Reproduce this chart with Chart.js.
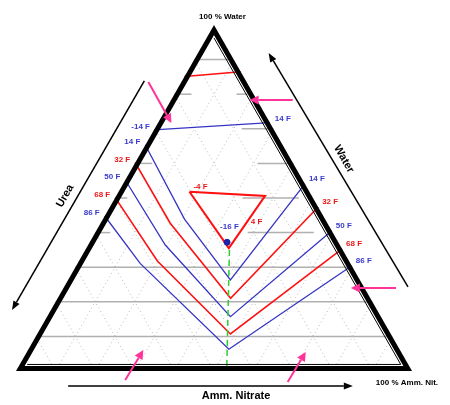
<!DOCTYPE html>
<html><head><meta charset="utf-8">
<script src="https://cdn.jsdelivr.net/npm/chart.js@4.4.0/dist/chart.umd.min.js"></script>
<style>html,body{margin:0;padding:0;background:#fff}#wrap{width:450px;height:405px;position:relative}</style>
</head><body><div id="wrap"><canvas id="c"></canvas></div>
<script>
// Compositions as [Amm. Nitrate %, Water %]  (Urea % = 100 - AN - Water)
const isoNames   = ['14 F', '32 F', '50 F', '68 F', '86 F'];
const iso14 = [[0, 65.3], [20.6, 43.9], [41.0, 26.3], [45.9, 54.1]];
const iso32 = [[0, 60.2], [17.6, 42.7], [43.7, 21.0], [52.6, 47.4]];
const iso50 = [[0, 55.2], [19.5, 36.4], [46.3, 15.7], [59.5, 40.5]];
const iso68 = [[0, 50.1], [19.8, 31.8], [48.8, 10.7], [64.7, 35.3]];
const iso86 = [[0, 44.8], [15.8, 31.1], [50.6, 6.3], [69.6, 30.4]];
const isoMinus14 = [[0, 69.7], [28.2, 71.8]];
const isoMinus14Labels = ['-14 F', '14 F'];
const isoTop = [[0, 85.1], [13.5, 86.5]];
const isoMinus4 = [[17.9, 51.8], [37.6, 50.6], [36.0, 35.5], [17.9, 51.8]];
const isoMinus4Labels = ['-4 F', '4 F'];
const isoMinus4LabelAt = [39.2, 43.1];
const eutecticPoint = [34.7, 37.2];
const eutecticLabel = '-16 F';
const eutecticLabelAt = [33.1, 41.6];
const eutecticPath = [[36.4, 35.0], [53.2, 0]];
// grid
const gridSteps = [10, 20, 30, 40, 50, 60, 70, 80, 90];
const waterLevels = [90, 80, 70, 60, 50, 40, 30, 20, 10];
const waterSegments = [
  [[0, 8.7]],
  [[0, 4.3], [15.7, 18.5]],
  [[22, 30]],
  [[0, 4.4], [31, 40]],
  [[0, 3.1], [32.2, 46.4]],
  [[0, 3.8], [38.5, 55.2]],
  [[0, 70]],
  [[0, 80]],
  [[0, 90]]
];
// outer annotations, in chart axis units [x, y]
const cornerTitles = ['100 % Water', '100 % Amm. Nit.'];
const cornerTitleAt = [[0.5215, 1.0231], [0.9873, -0.0347]];
const axisTitles = ['Urea', 'Water', 'Amm. Nitrate'];
const axisTitleAt = [[0.1241, 0.5058], [0.8278, 0.6127], [0.5557, -0.0723]];
const axisArrows = [
  [[0.3241, 0.8382], [-0.0101, 0.1763]],
  [[0.9899, 0.2428], [0.638, 0.9191]],
  [[0.1316, -0.0434], [0.8506, -0.0434]]
];
const pointerArrows = [
  [[0.3342, 0.8353], [0.3924, 0.7168]],
  [[0.6987, 0.7832], [0.5899, 0.7832]],
  [[0.9595, 0.2399], [0.8456, 0.2399]],
  [[0.2759, -0.026], [0.3215, 0.0607]],
  [[0.6861, -0.0318], [0.7316, 0.0549]]
];

const BLUE = '#3434c4', RED = '#ff1010', BLUE_T = '#3a3acc', RED_T = '#e81818';
const toXY = c => ({ x: c[0] / 100 + c[1] / 200, y: c[1] / 100 });
function line(points, color, width, order, dash) {
  return { data: points.map(toXY), showLine: true, borderColor: color, borderWidth: width,
    pointRadius: 0, pointHoverRadius: 0, fill: false, borderDash: dash || [], order: order, clip: false, tension: 0 };
}
const datasets = [];
gridSteps.forEach(k => {
  datasets.push(line([[k, 0], [k, 100 - k]], '#b8b8b8', 1, 20, [1, 3]));
  datasets.push(line([[100 - k, 0], [0, 100 - k]], '#b8b8b8', 1, 20, [1, 3]));
});
waterLevels.forEach((w, i) => {
  waterSegments[i].forEach(seg => datasets.push(line([[seg[0], w], [seg[1], w]], '#b0b0b0', 1.5, 15)));
});
const isoSeries = [iso14, iso32, iso50, iso68, iso86];
isoSeries.forEach((s, i) => datasets.push(line(s, i % 2 ? RED : BLUE, i % 2 ? 1.6 : 1.3, 5)));
datasets.push(line(isoMinus14, BLUE, 1.3, 5));
datasets.push(line(isoTop, RED, 1.6, 5));
datasets.push(line(isoMinus4, RED, 2, 5));
datasets.push(line(eutecticPath, '#2ecc2e', 1.5, 4, [6, 4]));
datasets.push({ data: [toXY(eutecticPoint)], showLine: false, pointRadius: 3, pointBackgroundColor: '#2020a8',
  pointBorderColor: '#2020a8', order: 1, clip: false });

function arrow(ctx, a, b, color, lw, hl, hw) {
  const dx = b[0] - a[0], dy = b[1] - a[1], L = Math.hypot(dx, dy), ux = dx / L, uy = dy / L;
  const bx = b[0] - ux * hl, by = b[1] - uy * hl;
  ctx.strokeStyle = color; ctx.lineWidth = lw; ctx.setLineDash([]);
  ctx.beginPath(); ctx.moveTo(a[0], a[1]); ctx.lineTo(bx, by); ctx.stroke();
  ctx.fillStyle = color; ctx.beginPath(); ctx.moveTo(b[0], b[1]);
  ctx.lineTo(bx - uy * hw, by + ux * hw); ctx.lineTo(bx + uy * hw, by - ux * hw); ctx.closePath(); ctx.fill();
}

const overlay = {
  id: 'overlay',
  afterDatasetsDraw(chart) {
    const ctx = chart.ctx, sx = chart.scales.x, sy = chart.scales.y;
    const P = (u, w) => [sx.getPixelForValue(u), sy.getPixelForValue(w)];
    const C = c => P(c[0] / 100 + c[1] / 200, c[1] / 100);
    ctx.save();
    // triangle border (drawn inward)
    const A = P(0, 0), B = P(1, 0), T = P(0.5, 1);
    ctx.save();
    ctx.beginPath(); ctx.moveTo(A[0], A[1]); ctx.lineTo(B[0], B[1]); ctx.lineTo(T[0], T[1]); ctx.closePath();
    ctx.clip();
    ctx.lineWidth = 10; ctx.strokeStyle = '#000'; ctx.lineJoin = 'miter'; ctx.stroke();
    ctx.restore();
    // thin inner line along bottom & right
    const G = [(A[0] + B[0] + T[0]) / 3, (A[1] + B[1] + T[1]) / 3];
    const inset = V => { const dx = G[0] - V[0], dy = G[1] - V[1], L = Math.hypot(dx, dy); return [V[0] + dx / L * 13, V[1] + dy / L * 13]; };
    const A2 = inset(A), B2 = inset(B), T2 = inset(T);
    ctx.strokeStyle = '#000'; ctx.lineWidth = 1;
    ctx.beginPath(); ctx.moveTo(A2[0], A2[1]); ctx.lineTo(B2[0], B2[1]); ctx.lineTo(T2[0], T2[1]); ctx.stroke();

    // isotherm labels
    ctx.font = 'bold 8px "Liberation Sans", Arial, sans-serif';
    ctx.textBaseline = 'middle';
    isoSeries.forEach((s, i) => {
      ctx.fillStyle = i % 2 ? RED_T : BLUE_T;
      const st = C(s[0]), en = C(s[s.length - 1]);
      ctx.textAlign = 'right'; ctx.fillText(isoNames[i], st[0] - 5, st[1] - 3);
      ctx.textAlign = 'left'; ctx.fillText(isoNames[i], en[0] + 4, en[1] - 5);
    });
    ctx.fillStyle = BLUE_T;
    let st = C(isoMinus14[0]), en = C(isoMinus14[1]);
    ctx.textAlign = 'right'; ctx.fillText(isoMinus14Labels[0], st[0] - 4, st[1] - 3);
    ctx.textAlign = 'left'; ctx.fillText(isoMinus14Labels[1], en[0] + 5, en[1] - 4);
    ctx.fillStyle = RED_T;
    st = C(isoMinus4[0]);
    ctx.textAlign = 'left'; ctx.fillText(isoMinus4Labels[0], st[0] + 4, st[1] - 5);
    let p = C(isoMinus4LabelAt);
    ctx.textAlign = 'center'; ctx.fillText(isoMinus4Labels[1], p[0], p[1]);
    ctx.fillStyle = BLUE_T;
    p = C(eutecticLabelAt);
    ctx.fillText(eutecticLabel, p[0], p[1]);

    // corner titles
    ctx.fillStyle = '#000';
    ctx.font = 'bold 8px "Liberation Sans", Arial, sans-serif';
    cornerTitles.forEach((t, i) => { const q = P(cornerTitleAt[i][0], cornerTitleAt[i][1]); ctx.fillText(t, q[0], q[1]); });
    // axis titles
    ctx.font = 'bold 11px "Liberation Sans", Arial, sans-serif';
    const rot = [-Math.PI / 3, Math.PI / 3, 0];
    axisTitles.forEach((t, i) => {
      const q = P(axisTitleAt[i][0], axisTitleAt[i][1]);
      ctx.save(); ctx.translate(q[0], q[1]); ctx.rotate(rot[i]); ctx.fillText(t, 0, 0); ctx.restore();
    });
    // arrows
    axisArrows.forEach(a => arrow(ctx, P(a[0][0], a[0][1]), P(a[1][0], a[1][1]), '#000', 1.5, 9, 3.5));
    pointerArrows.forEach(a => arrow(ctx, P(a[0][0], a[0][1]), P(a[1][0], a[1][1]), '#ff3399', 2, 9, 4.5));
    ctx.restore();
  }
};

new Chart(document.getElementById('c'), {
  type: 'scatter',
  data: { datasets },
  options: {
    responsive: true, maintainAspectRatio: false, animation: false,
    layout: { padding: { left: 16, right: 38, top: 25, bottom: 34 } },
    scales: {
      x: { type: 'linear', min: 0, max: 1, display: false },
      y: { type: 'linear', min: 0, max: 1, display: false }
    },
    plugins: { legend: { display: false }, tooltip: { enabled: false } },
    events: []
  },
  plugins: [overlay]
});
</script></body></html>
